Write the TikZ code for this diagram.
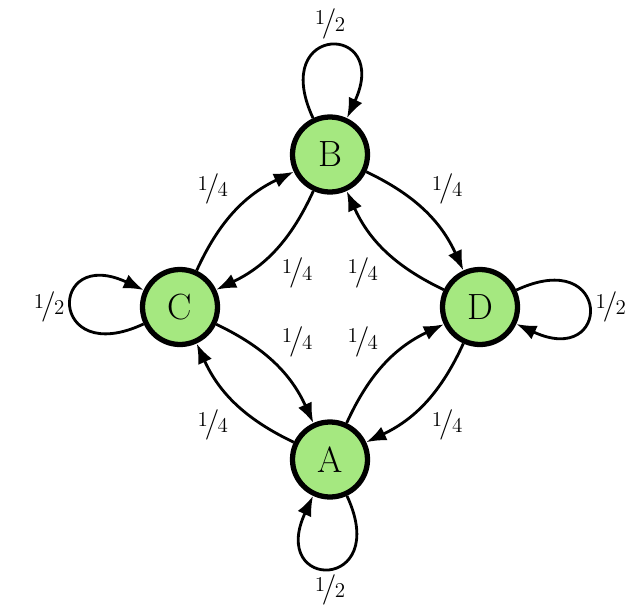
\documentclass[tikz,border=0pt]{standalone}
\usepackage{nicefrac}
\usetikzlibrary{arrows.meta}
\definecolor{stategreen}{RGB}{165,232,128}
\begin{document}
\begin{tikzpicture}[auto,
    state/.style ={circle, draw, line width=3pt, fill=stategreen, inner sep=0pt, minimum size=15mm, font=\huge},
    trans/.style ={line width=1.6pt, -{Latex[length=4mm,width=3mm]}, bend left=20},
    self/.style ={line width=1.6pt, -{Latex[length=4mm,width=3mm]}, looseness=8},
    font=\LARGE]
   \useasboundingbox (-6.6,-6.12) rectangle (6.22,6.14);
   \node[state] (A)  at (0,-3.05)  {A};
   \node[state] (B)  at (0,3.05)  {B};
   \node[state] (C)  at (-3,0)  {C};
   \node[state] (D)  at (3,0)  {D};
   \draw[trans] (C) to node {$\nicefrac{1}{4}$} (B);
   \draw[trans] (B) to node {$\nicefrac{1}{4}$} (C);
   \draw[trans] (B) to node {$\nicefrac{1}{4}$} (D);
   \draw[trans] (D) to node {$\nicefrac{1}{4}$} (B);
   \draw[trans] (D) to node {$\nicefrac{1}{4}$} (A);
   \draw[trans] (A) to node {$\nicefrac{1}{4}$} (D);
   \draw[trans] (A) to node {$\nicefrac{1}{4}$} (C);
   \draw[trans] (C) to node {$\nicefrac{1}{4}$} (A);
   \draw[self] (B) to[out=115, in=65] node {$\nicefrac{1}{2}$} (B);
   \draw[self] (C) to[out=205, in=155] node {$\nicefrac{1}{2}$} (C);
   \draw[self] (D) to[out=25, in=-25] node {$\nicefrac{1}{2}$} (D);
   \draw[self] (A) to[out=295, in=245] node {$\nicefrac{1}{2}$} (A);
 \end{tikzpicture}
\end{document}
